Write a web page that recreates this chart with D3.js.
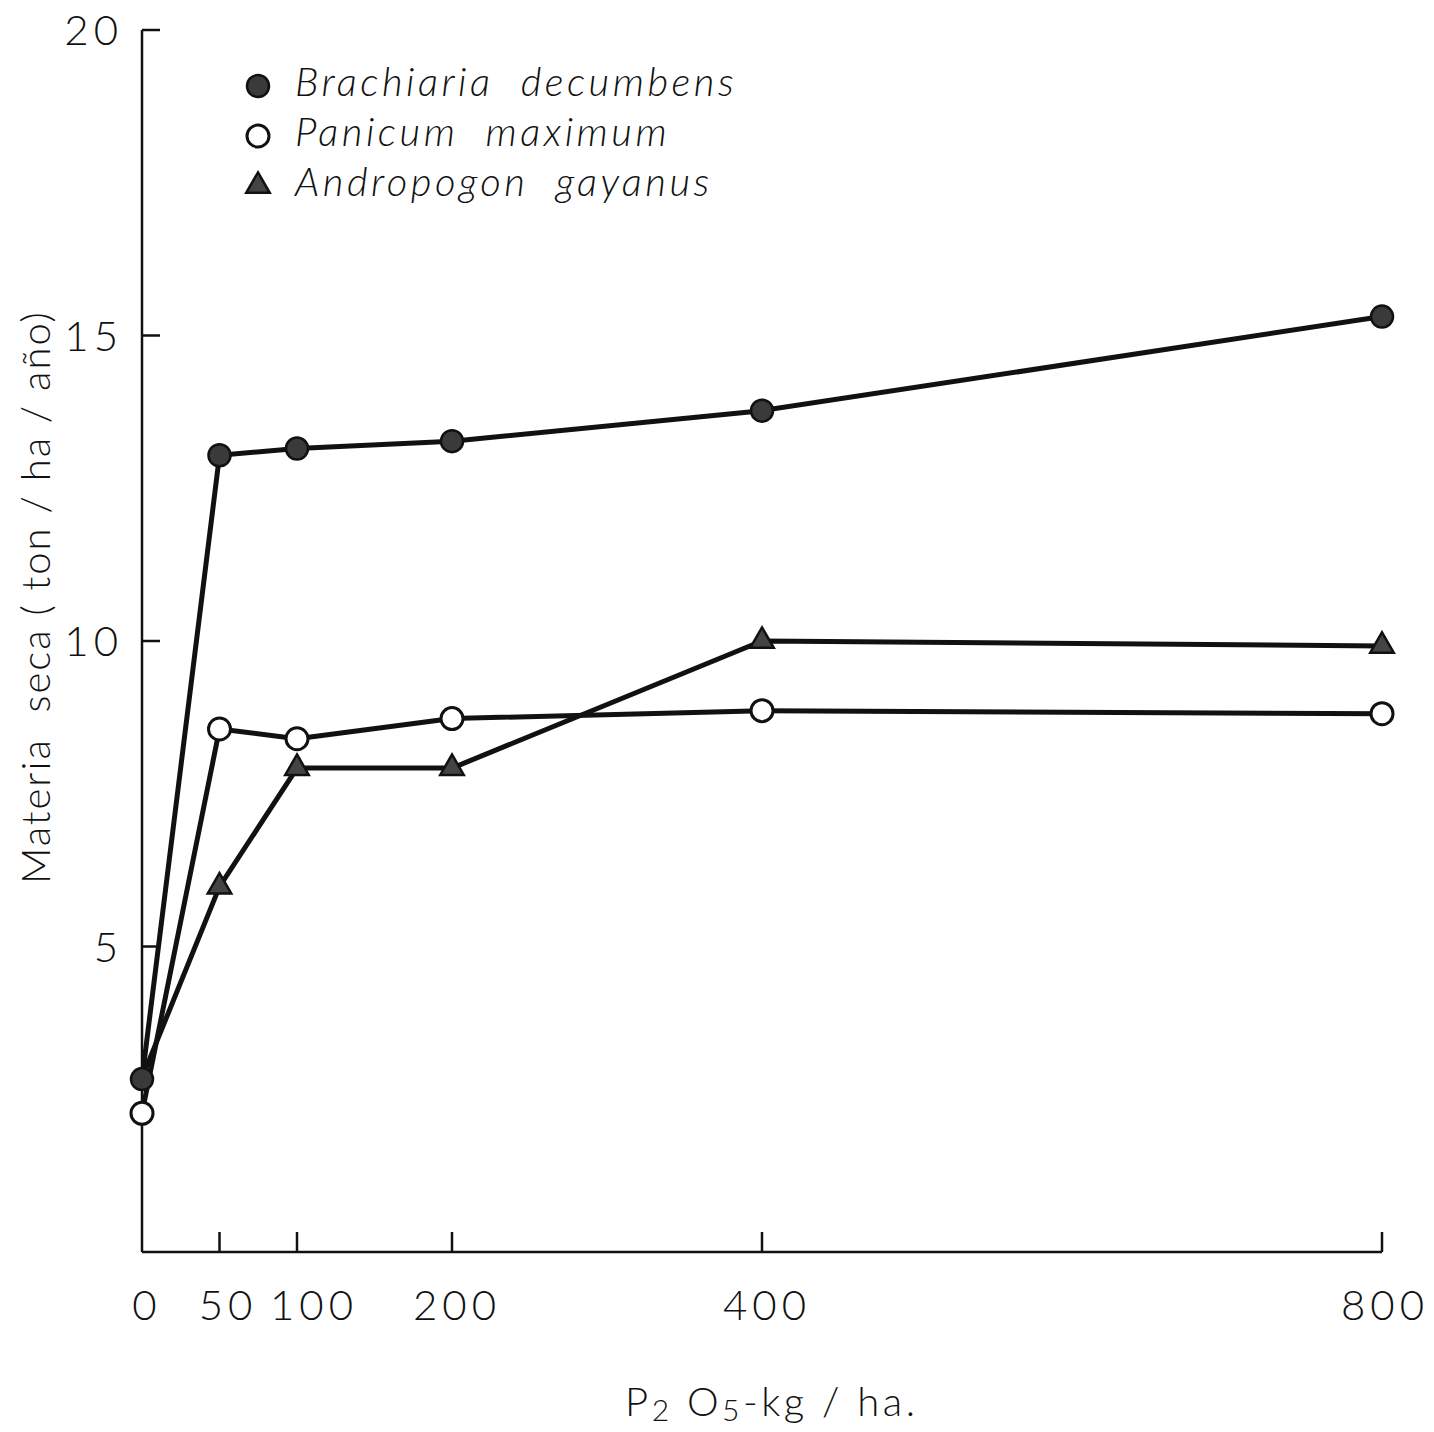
<!DOCTYPE html>
<html><head><meta charset="utf-8">
<script src="https://cdn.jsdelivr.net/npm/d3@7"></script>
<style>body{margin:0;background:#fff}svg{display:block}</style>
</head><body>
<script>
const doses = [0, 50, 100, 200, 400, 800];
const brachiaria = [2.83, 13.04, 13.15, 13.27, 13.77, 15.31];
const panicum = [2.27, 8.56, 8.40, 8.73, 8.86, 8.81];
const andropogon = [2.85, 5.98, 7.92, 7.92, 10.0, 9.92];
const xTicks = [50, 100, 200, 400, 800];
const xTickLabels = ["0", "50", "100", "200", "400", "800"];
const yTicks = [5, 10, 15, 20];
const seriesNames = ["Brachiaria  decumbens", "Panicum  maximum", "Andropogon  gayanus"];

const W = 1434, H = 1432;
const svg = d3.select("body").append("svg").attr("width", W).attr("height", H);
const x = d3.scaleLinear().domain([0, 800]).range([142, 1382]);
const y = d3.scaleLinear().domain([0, 20]).range([1252, 30]);
const font = "Lato, 'DejaVu Sans', sans-serif";

// axes
const g = svg.append("g");
g.append("line").attr("x1", x(0)).attr("x2", x(0)).attr("y1", y(20)).attr("y2", y(0)).attr("stroke", "#111").attr("stroke-width", 2.5);
g.append("line").attr("x1", x(0)).attr("x2", x(800)).attr("y1", y(0)).attr("y2", y(0)).attr("stroke", "#111").attr("stroke-width", 2.5);
g.selectAll(".yt").data(yTicks).join("line")
  .attr("x1", x(0)).attr("x2", x(0) + 18).attr("y1", d => y(d)).attr("y2", d => y(d))
  .attr("stroke", "#111").attr("stroke-width", 2.5);
g.selectAll(".ytl").data(yTicks).join("text")
  .attr("x", 123).attr("y", d => y(d)).attr("dy", "0.36em").attr("text-anchor", "end")
  .attr("font-family", font).attr("font-weight", 300).attr("font-size", 42).attr("letter-spacing", 5).attr("fill", "#111").text(d => d);
g.selectAll(".xt").data(xTicks).join("line")
  .attr("x1", d => x(d)).attr("x2", d => x(d)).attr("y1", y(0)).attr("y2", y(0) - 20)
  .attr("stroke", "#111").attr("stroke-width", 2.5);
const labelCenters = [147, 228, 314, 457, 767, 1385];
g.selectAll(".xtl").data(doses).join("text")
  .attr("x", (d, i) => labelCenters[i]).attr("y", 1320).attr("text-anchor", "middle")
  .attr("font-family", font).attr("font-weight", 300).attr("font-size", 42).attr("letter-spacing", 5).attr("fill", "#111")
  .text((d, i) => xTickLabels[i]);

// axis titles
svg.append("text").attr("transform", "translate(50,597) rotate(-90)").attr("text-anchor", "middle")
  .attr("font-family", font).attr("font-weight", 300).attr("font-size", 40).attr("letter-spacing", 2).attr("fill", "#111")
  .attr("xml:space", "preserve").style("white-space", "pre")
  .text("Materia  seca ( ton / ha / año)");
const xt = svg.append("text").attr("x", 625).attr("y", 1416).attr("font-family", font).attr("font-weight", 300).attr("font-size", 40)
  .attr("letter-spacing", 3.5).attr("fill", "#111").attr("xml:space", "preserve").style("white-space", "pre");
xt.append("tspan").text("P");
xt.append("tspan").attr("font-size", 30).attr("dy", 5).text("2");
xt.append("tspan").attr("dy", -5).text(" O");
xt.append("tspan").attr("font-size", 30).attr("dy", 5).text("5");
xt.append("tspan").attr("dy", -5).text("-kg / ha.");

// lines
const line = d3.line().x((d, i) => x(doses[i])).y(d => y(d));
const series = [
  {vals: andropogon, type: "tri"},
  {vals: panicum, type: "open"},
  {vals: brachiaria, type: "fill"}
];
series.forEach(s => {
  svg.append("path").datum(s.vals).attr("d", line).attr("fill", "none")
    .attr("stroke", "#111").attr("stroke-width", 5).attr("stroke-linejoin", "round");
});
function marker(sel, type) {
  if (type === "fill") sel.append("circle").attr("r", 11).attr("fill", "#3a3a3a").attr("stroke", "#111").attr("stroke-width", 2.5);
  else if (type === "open") sel.append("circle").attr("r", 11).attr("fill", "#fff").attr("stroke", "#111").attr("stroke-width", 3);
  else sel.append("path").attr("d", d3.symbol(d3.symbolTriangle, 240)()).attr("fill", "#444").attr("stroke", "#111").attr("stroke-width", 2.5);
}
series.forEach(s => {
  s.vals.forEach((v, i) => {
    if (s.type === "tri" && i === 0) return; // hidden under the Brachiaria point in the original
    const m = svg.append("g").attr("transform", `translate(${x(doses[i])},${y(v)})`);
    marker(m, s.type);
  });
});

// legend
const legendTypes = ["fill", "open", "tri"];
seriesNames.forEach((name, i) => {
  const ly = 82 + i * 50;
  const m = svg.append("g").attr("transform", `translate(258,${ly + 4})`);
  marker(m, legendTypes[i]);
  svg.append("text").attr("x", 295).attr("y", ly).attr("dy", "0.36em")
    .attr("font-family", font).attr("font-style", "italic").attr("font-weight", 300).attr("font-size", 40).attr("letter-spacing", 3.5)
    .attr("fill", "#111").attr("xml:space", "preserve").style("white-space", "pre").text(name);
});
</script>
</body></html>
